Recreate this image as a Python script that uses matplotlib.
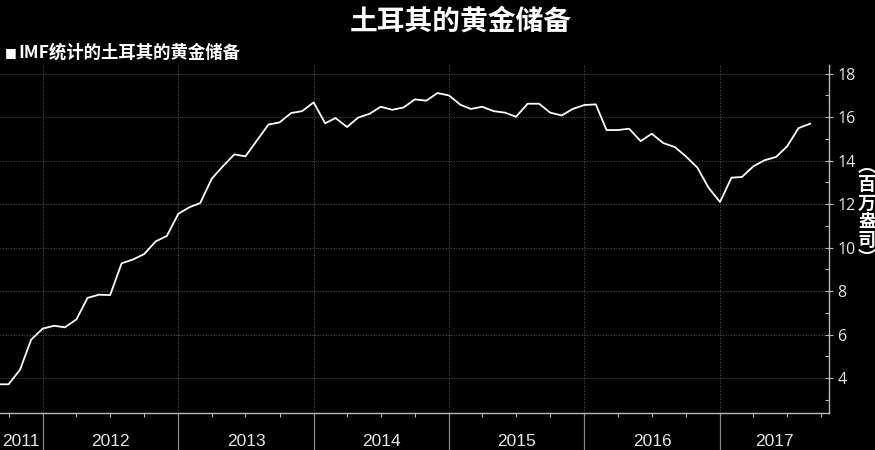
import numpy as np
import pandas as pd
import matplotlib
matplotlib.use('Agg')
import matplotlib.pyplot as plt
import matplotlib.dates as mdates

# monthly gold reserves of Turkey (IMF), million troy ounces
months = pd.date_range('2011-09-01', periods=73, freq='MS')
gold = [3.72, 3.72, 4.39, 5.77,
        6.28, 6.41, 6.34, 6.70, 7.69, 7.84, 7.82, 9.28, 9.46, 9.71, 10.29, 10.54,
        11.56, 11.87, 12.05, 13.17, 13.74, 14.29, 14.20, 14.93, 15.66, 15.76, 16.19, 16.28,
        16.68, 15.72, 15.96, 15.55, 15.98, 16.16, 16.48, 16.34, 16.45, 16.82, 16.76, 17.11,
        17.00, 16.57, 16.38, 16.48, 16.28, 16.21, 16.02, 16.62, 16.62, 16.21, 16.08, 16.38,
        16.56, 16.59, 15.41, 15.41, 15.47, 14.90, 15.24, 14.81, 14.63, 14.20, 13.68, 12.76,
        12.10, 13.22, 13.25, 13.74, 14.02, 14.17, 14.66, 15.50, 15.70]
years = [2011, 2012, 2013, 2014, 2015, 2016, 2017]
yticks = [4, 6, 8, 10, 12, 14, 16, 18]
title = '土耳其的黄金储备'
legend_text = 'IMF统计的土耳其的黄金储备'
unit_chars = ['︵', '百', '万', '盎', '司', '︶']

cjk = ['Noto Sans CJK SC', 'DejaVu Sans']
tick_col = '#e6e6e6'
grid_col = '#666666'

fig = plt.figure(figsize=(8.75, 4.5), dpi=100, facecolor='black')
ax = fig.add_axes([0, 37/450, 829/875, (413-65)/450])
ax.set_facecolor('black')

ax.plot(months, gold, color='white', lw=1.3)

x0 = pd.Timestamp('2011-09-08')
x1 = pd.Timestamp('2017-10-22')
ax.set_xlim(x0, x1)
ax.set_ylim(2.4, 18.4)

# y axis on the right
ax.yaxis.tick_right()
ax.set_yticks(yticks)
ax.set_yticks(np.arange(3, 19, 2), minor=True)
ax.tick_params(axis='y', which='major', direction='inout', length=6, width=0.8,
               colors='#bbbbbb', labelcolor=tick_col, labelsize=11.5, pad=3)
ax.tick_params(axis='y', which='minor', direction='in', length=3, width=0.8, colors='#bbbbbb')
for lab in ax.get_yticklabels():
    lab.set_family(['Open Sans', 'DejaVu Sans'])

# x axis: year separators + quarterly minor ticks
ax.xaxis.set_major_locator(mdates.YearLocator())
ax.xaxis.set_minor_locator(mdates.MonthLocator(bymonth=[4, 7, 10]))
ax.xaxis.set_major_formatter(plt.NullFormatter())
ax.tick_params(axis='x', which='major', direction='out', length=27, width=0.9, colors='#888888')
ax.tick_params(axis='x', which='minor', direction='out', length=3, width=0.8, colors='#bbbbbb')

ax.grid(True, which='major', color=grid_col, linestyle=(0, (1.2, 2)), lw=0.6)

for s in ['left', 'top']:
    ax.spines[s].set_visible(False)
for s in ['right', 'bottom']:
    ax.spines[s].set_color('#bbbbbb')
    ax.spines[s].set_linewidth(1.0)

# year labels centred in the visible part of each year
xl0, xl1 = ax.get_xlim()
for yr in years:
    a = max(mdates.date2num(pd.Timestamp(f'{yr}-01-01')), xl0)
    b = min(mdates.date2num(pd.Timestamp(f'{yr+1}-01-01')), xl1)
    ax.text((a + b) / 2, -0.083, str(yr), transform=ax.get_xaxis_transform(),
            ha='center', va='center', color=tick_col, fontsize=12.5,
            family=['Liberation Sans', 'DejaVu Sans'])

# titles
fig.text(461/875, 1 - 22/450, title, ha='center', va='center', fontsize=20,
         fontweight='bold', color='white', family=cjk)
fig.text(5/875, 1 - 53/450, '■', ha='left', va='center', fontsize=9,
         color='white', family=['DejaVu Sans'])
fig.text(18/875, 1 - 53/450, legend_text, ha='left', va='center', fontsize=12.5,
         fontweight='bold', color='white', family=cjk)

# vertical unit label
for i, ch in enumerate(unit_chars):
    fig.text(867/875, 1 - (166 + i * 18.5)/450, ch, ha='center', va='center',
             fontsize=13, fontweight='bold', color='white', family=cjk)

fig.savefig('out.png', dpi=100, facecolor='black')
